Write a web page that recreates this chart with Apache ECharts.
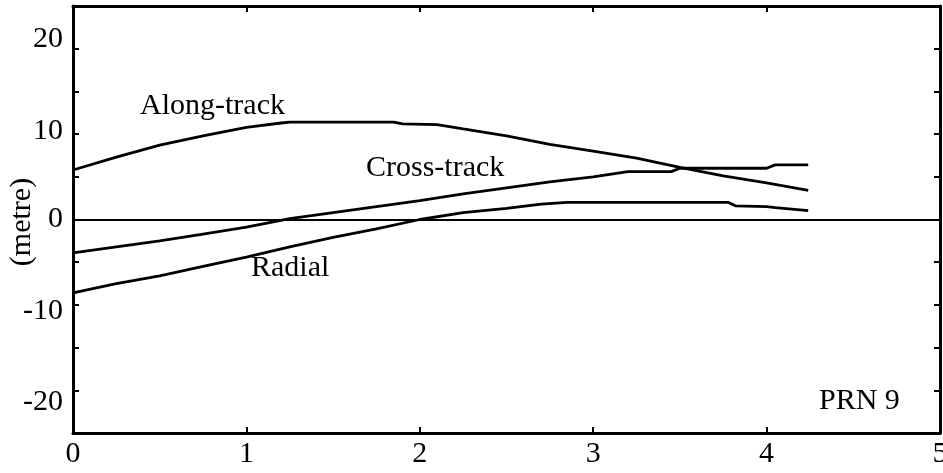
<!DOCTYPE html>
<html>
<head>
<meta charset="utf-8">
<script src="https://cdn.jsdelivr.net/npm/echarts@6/dist/echarts.min.js"></script>
<style>
  html, body { margin: 0; padding: 0; background: #fff; }
  #chart { width: 943px; height: 473px; }
</style>
</head>
<body>
<div id="chart"></div>
<script>
// Orbit error components for PRN 9 (metres) against time
const alongTrack = [
  [0, 5.8], [0.25, 7.3], [0.5, 8.7], [0.75, 9.8], [1.0, 10.8], [1.2, 11.3],
  [1.25, 11.4], [1.85, 11.4], [1.9, 11.2], [2.1, 11.1], [2.25, 10.6],
  [2.5, 9.8], [2.75, 8.8], [3.0, 8.0], [3.25, 7.2], [3.5, 6.1],
  [3.75, 5.1], [4.0, 4.3], [4.24, 3.4]
];
const crossTrack = [
  [0, -3.9], [0.25, -3.2], [0.5, -2.5], [0.75, -1.7], [1.0, -0.9],
  [1.25, 0.1], [1.5, 0.8], [1.75, 1.5], [2.0, 2.2], [2.25, 3.0],
  [2.5, 3.7], [2.75, 4.4], [3.0, 5.0], [3.2, 5.6], [3.45, 5.6],
  [3.5, 6.0], [4.0, 6.0], [4.05, 6.4], [4.24, 6.4]
];
const radial = [
  [0, -8.6], [0.25, -7.5], [0.5, -6.6], [0.75, -5.5], [1.0, -4.4],
  [1.25, -3.2], [1.5, -2.1], [1.75, -1.1], [2.0, 0.0], [2.25, 0.8],
  [2.5, 1.3], [2.7, 1.8], [2.85, 2.0], [3.78, 2.0], [3.82, 1.6],
  [4.0, 1.5], [4.05, 1.4], [4.24, 1.05]
];
const xTicks = [0, 5, 1];        // min, max, interval
const yTicks = [-25, 25, 5];     // min, max, interval
const yLabelStep = 10;

const FONT = "'Liberation Serif', 'Times New Roman', serif";
const FONT_SIZE = 30;
const INK = '#000';

const chart = echarts.init(document.getElementById('chart'), null, { renderer: 'canvas' });

const tick = { show: true, inside: true, length: 6, lineStyle: { color: INK, width: 2 } };
const line = { show: true, onZero: false, lineStyle: { color: INK, width: 3 } };

function curve(name, data) {
  return {
    name, type: 'line', data, xAxisIndex: 0, yAxisIndex: 0,
    showSymbol: false, symbol: 'none', animation: false,
    lineStyle: { color: INK, width: 2.8 }
  };
}

const zeroSeries = curve('zero', alongTrack);
zeroSeries.lineStyle = { width: 0, opacity: 0 };
zeroSeries.markLine = {
  silent: true, symbol: 'none', label: { show: false },
  lineStyle: { color: INK, width: 2, type: 'solid' },
  data: [{ yAxis: 0 }]
};
zeroSeries.z = 1;

const textStyle = (t) => ({ text: t, font: FONT_SIZE + 'px ' + FONT, fill: INK, verticalAlign: 'middle' });

// The outer value labels sit slightly away from their ticks, spreading the scale text.
const yLabelRich = {
  p20: { padding: [0, 0, 20, 0] },
  p10: { padding: [0, 0, 6, 0] },
  p0: { padding: [0, 0, 0, 0] },
  m10: { padding: [12, 0, 0, 0] },
  m20: { padding: [24, 0, 0, 0] }
};
function yLabel(v) {
  if (v % yLabelStep !== 0 || Math.abs(v) >= yTicks[1]) return '';
  const key = v === 0 ? 'p0' : (v > 0 ? 'p' : 'm') + Math.abs(v);
  return '{' + key + '|' + v + '}';
}
Object.values(yLabelRich).forEach(r => {
  r.fontFamily = FONT; r.fontSize = FONT_SIZE; r.color = INK;
});

chart.setOption({
  animation: false,
  backgroundColor: '#fff',
  grid: { left: 73, right: 3, top: 6, bottom: 40, containLabel: false, outerBoundsMode: 'none' },
  xAxis: [
    {
      type: 'value', min: xTicks[0], max: xTicks[1], interval: xTicks[2],
      position: 'bottom', axisLine: line, axisTick: tick, splitLine: { show: false },
      axisLabel: { color: INK, fontFamily: FONT, fontSize: FONT_SIZE, margin: 6 }
    },
    {
      type: 'value', min: xTicks[0], max: xTicks[1], interval: xTicks[2],
      position: 'top', axisLine: line, axisTick: tick, splitLine: { show: false },
      axisLabel: { show: false }
    }
  ],
  yAxis: [
    {
      type: 'value', min: yTicks[0], max: yTicks[1], interval: yTicks[2],
      position: 'left', axisLine: line, axisTick: tick, splitLine: { show: false },
      axisLabel: {
        color: INK, fontFamily: FONT, fontSize: FONT_SIZE, margin: 10,
        formatter: yLabel, rich: yLabelRich
      }
    },
    {
      type: 'value', min: yTicks[0], max: yTicks[1], interval: yTicks[2],
      position: 'right', axisLine: line, axisTick: tick, splitLine: { show: false },
      axisLabel: { show: false }
    }
  ],
  series: [
    zeroSeries,
    curve('Along-track', alongTrack),
    curve('Cross-track', crossTrack),
    curve('Radial', radial)
  ],
  graphic: [
    { type: 'text', left: 140, top: 91, style: textStyle('Along-track') },
    { type: 'text', left: 366, top: 153, style: textStyle('Cross-track') },
    { type: 'text', left: 251, top: 253, style: textStyle('Radial') },
    { type: 'text', left: 819, top: 386, style: textStyle('PRN 9') },
    { type: 'text', x: 22, y: 222, rotation: Math.PI / 2,
      style: { text: '(metre)', font: FONT_SIZE + 'px ' + FONT, fill: INK, align: 'center', verticalAlign: 'middle' } }
  ]
});
</script>
</body>
</html>
